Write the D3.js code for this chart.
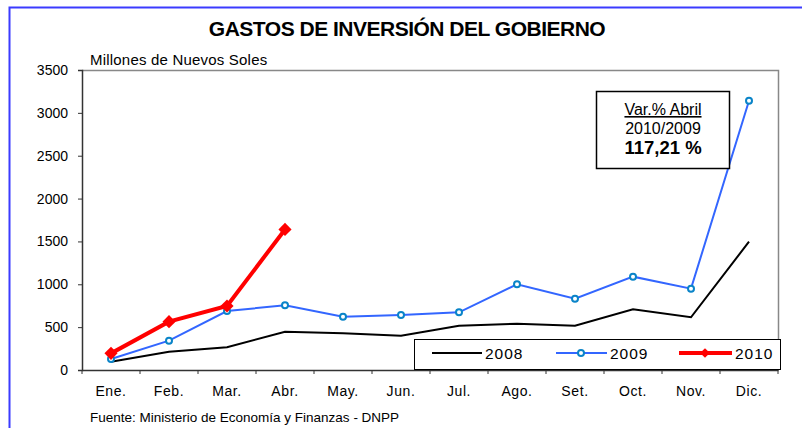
<!DOCTYPE html>
<html>
<head>
<meta charset="utf-8">
<script src="https://cdn.jsdelivr.net/npm/d3@7"></script>
<style>
  body { margin: 0; background: #fff; }
  text { font-family: "Liberation Sans", Arial, sans-serif; }
</style>
</head>
<body>
<div id="chart"></div>
<script>
// Data
const months = ["Ene.", "Feb.", "Mar.", "Abr.", "May.", "Jun.", "Jul.", "Ago.", "Set.", "Oct.", "Nov.", "Dic."];
const yTicks = [0, 500, 1000, 1500, 2000, 2500, 3000, 3500];
const gastos2008 = [97, 214, 265, 447, 428, 400, 517, 540, 517, 708, 615, 1497];
const gastos2009 = [128, 342, 688, 755, 622, 642, 673, 1000, 832, 1089, 949, 3142];
const gastos2010 = [194, 564, 747, 1640];

// Configuration
const width = 802;
const height = 428;
const margin = { left: 82, right: 24, top: 70, bottom: 58 };

const svg = d3.select("#chart")
    .append("svg")
    .attr("width", width)
    .attr("height", height);

// outer blue frame (only top and left edges are visible)
svg.append("path")
    .attr("d", `M9.5,${height} V7.5 H${width}`)
    .attr("fill", "none")
    .attr("stroke", "#3b3bff")
    .attr("stroke-width", 2);

// Scales
const x = d3.scaleBand()
    .domain(months)
    .range([margin.left, width - margin.right]);

const y = d3.scaleLinear()
    .domain([0, 3500])
    .range([height - margin.bottom, margin.top]);

const cx = m => x(m) + x.bandwidth() / 2;

// plot area border (top and right)
svg.append("path")
    .attr("d", `M${margin.left},${margin.top + 0.5} H${width - margin.right + 0.5} V${height - margin.bottom}`)
    .attr("fill", "none")
    .attr("stroke", "#888")
    .attr("stroke-width", 1.5);

// Axes
const yAxis = d3.axisLeft(y)
    .tickValues(yTicks)
    .tickFormat(d3.format("d"))
    .tickSize(4)
    .tickPadding(10);

const yAxisG = svg.append("g")
    .attr("transform", `translate(${margin.left},0)`)
    .call(yAxis);

const xAxis = d3.axisBottom(x)
    .tickSize(0)
    .tickPadding(16);

const xAxisG = svg.append("g")
    .attr("transform", `translate(0,${height - margin.bottom})`)
    .call(xAxis);

// tick marks between categories
xAxisG.selectAll(".sep")
    .data(d3.range(months.length + 1))
    .enter()
    .append("line")
    .attr("class", "sep")
    .attr("x1", i => margin.left + i * x.step())
    .attr("x2", i => margin.left + i * x.step())
    .attr("y1", 0)
    .attr("y2", 4)
    .attr("stroke", "#333");

[yAxisG, xAxisG].forEach(g => {
    g.select(".domain").attr("stroke", "#333").attr("stroke-width", 1.5);
    g.selectAll(".tick line").attr("stroke", "#333");
    g.selectAll("text")
        .attr("font-family", "'Liberation Sans', Arial, sans-serif")
        .attr("font-size", 14)
        .attr("fill", "#000");
});
xAxisG.selectAll(".tick text").attr("letter-spacing", "0.6px");

// Title and labels
svg.append("text")
    .attr("x", 407)
    .attr("y", 36)
    .attr("text-anchor", "middle")
    .attr("font-size", 21)
    .attr("font-weight", "bold")
    .attr("letter-spacing", "-0.5px")
    .text("GASTOS DE INVERSIÓN DEL GOBIERNO");

svg.append("text")
    .attr("x", 90)
    .attr("y", 65)
    .attr("font-size", 15)
    .attr("letter-spacing", "0.2px")
    .text("Millones de Nuevos Soles");

svg.append("text")
    .attr("x", 90)
    .attr("y", 422)
    .attr("font-size", 13.5)
    .text("Fuente: Ministerio de Economía y Finanzas - DNPP");

// Lines
const line = d3.line()
    .x((d, i) => cx(months[i]))
    .y(d => y(d));

svg.append("path")
    .datum(gastos2008)
    .attr("fill", "none")
    .attr("stroke", "#000")
    .attr("stroke-width", 2)
    .attr("d", line);

svg.append("path")
    .datum(gastos2009)
    .attr("fill", "none")
    .attr("stroke", "#3366ff")
    .attr("stroke-width", 2)
    .attr("d", line);

svg.selectAll(".p2009")
    .data(gastos2009)
    .enter()
    .append("circle")
    .attr("class", "p2009")
    .attr("cx", (d, i) => cx(months[i]))
    .attr("cy", d => y(d))
    .attr("r", 3)
    .attr("fill", "#fff")
    .attr("stroke", "#0a84c8")
    .attr("stroke-width", 2);

svg.append("path")
    .datum(gastos2010)
    .attr("fill", "none")
    .attr("stroke", "#ff0000")
    .attr("stroke-width", 4)
    .attr("d", line);

const diamond = d3.symbol().type(d3.symbolDiamond2).size(110);

svg.selectAll(".p2010")
    .data(gastos2010)
    .enter()
    .append("path")
    .attr("class", "p2010")
    .attr("transform", (d, i) => `translate(${cx(months[i])},${y(d)})`)
    .attr("d", diamond)
    .attr("fill", "#ff0000");

// Annotation box
const note = svg.append("g");
note.append("rect")
    .attr("x", 596.5)
    .attr("y", 91.5)
    .attr("width", 133)
    .attr("height", 77)
    .attr("fill", "#fff")
    .attr("stroke", "#000")
    .attr("stroke-width", 1.5);
note.append("text")
    .attr("x", 663)
    .attr("y", 115)
    .attr("text-anchor", "middle")
    .attr("font-size", 16)
    .attr("text-decoration", "underline")
    .text("Var.% Abril");
note.append("text")
    .attr("x", 663)
    .attr("y", 134)
    .attr("text-anchor", "middle")
    .attr("font-size", 16)
    .text("2010/2009");
note.append("text")
    .attr("x", 663)
    .attr("y", 154)
    .attr("text-anchor", "middle")
    .attr("font-size", 18.5)
    .attr("font-weight", "bold")
    .text("117,21 %");

// Legend
const legend = svg.append("g");
legend.append("rect")
    .attr("x", 414.5)
    .attr("y", 339.5)
    .attr("width", 366)
    .attr("height", 30)
    .attr("fill", "#fff")
    .attr("stroke", "#000")
    .attr("stroke-width", 1);

const legendItems = [
    { name: "2008", x0: 432, x1: 482, color: "#000", w: 2 },
    { name: "2009", x0: 556, x1: 607, color: "#3366ff", w: 2 },
    { name: "2010", x0: 679, x1: 732, color: "#ff0000", w: 4 }
];
const ly = 353;
legendItems.forEach(it => {
    legend.append("line")
        .attr("x1", it.x0).attr("x2", it.x1)
        .attr("y1", ly).attr("y2", ly)
        .attr("stroke", it.color)
        .attr("stroke-width", it.w);
    legend.append("text")
        .attr("x", it.x1 + 3)
        .attr("y", ly + 6)
        .attr("font-size", 15.5)
        .attr("letter-spacing", "1px")
        .text(it.name);
});
legend.append("circle")
    .attr("cx", 581).attr("cy", ly).attr("r", 3)
    .attr("fill", "#fff").attr("stroke", "#0a84c8").attr("stroke-width", 2);
legend.append("path")
    .attr("transform", `translate(705,${ly})`)
    .attr("d", d3.symbol().type(d3.symbolDiamond2).size(60))
    .attr("fill", "#ff0000");
</script>
</body>
</html>
